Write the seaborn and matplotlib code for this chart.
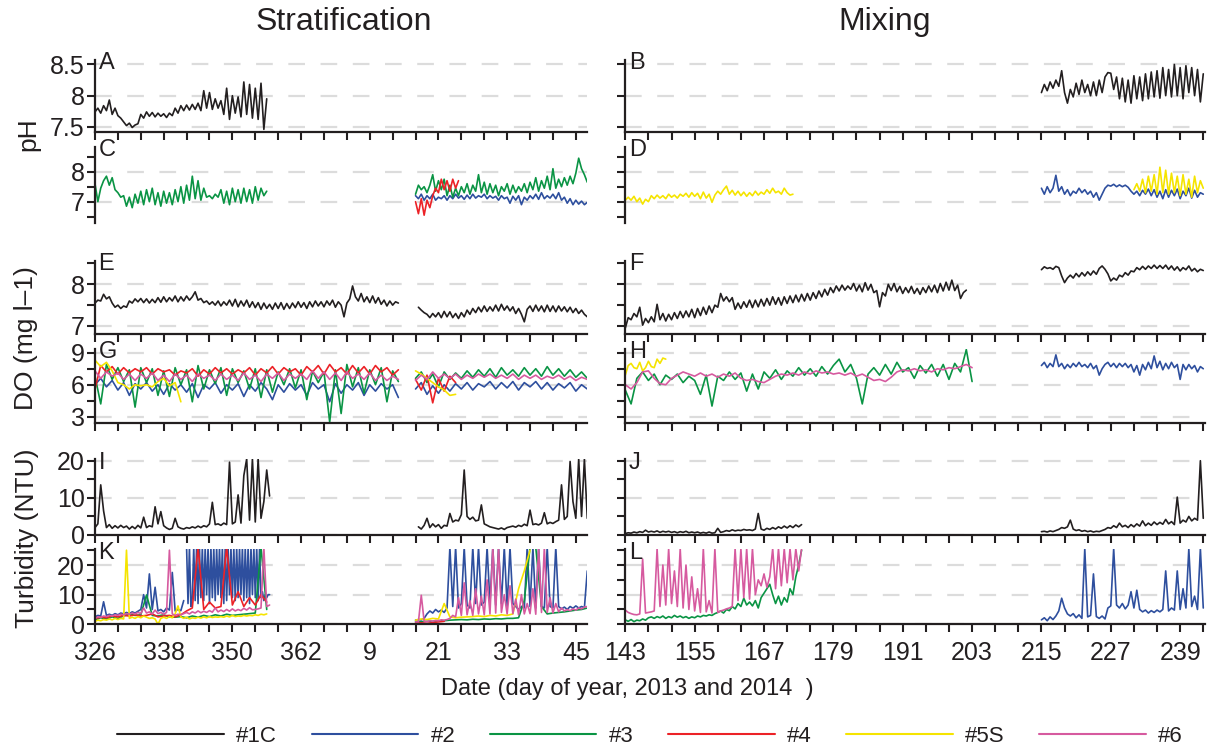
import numpy as np
import pandas as pd
import matplotlib
matplotlib.use("Agg")
import matplotlib.pyplot as plt
from matplotlib.lines import Line2D
import seaborn as sns

# ---------------- data ----------------
SITES = ["#1C", "#2", "#3", "#4", "#5S", "#6"]
COLORS = ["#231f20", "#2e4f9e", "#0a9444", "#ec2227", "#f5e400", "#d65a9f"]

# day index: 2013 days as is, 2014 days (stratification) as 365 + day of year
# pH, #1C
A_1C = [7.74,7.80,7.72,7.84,7.76,7.93,7.70,7.80,7.68,7.64,
        7.58,7.52,7.56,7.49,7.53,7.55,7.70,7.64,7.74,7.67,
        7.73,7.66,7.72,7.67,7.71,7.65,7.72,7.68,7.80,7.72,
        7.84,7.76,7.85,7.77,7.86,7.78,7.88,7.76,8.08,7.80,
        8.05,7.78,7.95,7.80,7.92,7.70,8.12,7.62,8.00,7.72,
        7.98,7.66,8.22,7.70,8.18,7.64,8.12,7.62,8.20,7.46,7.95]
B_1C = [8.05,8.18,8.08,8.22,8.12,8.25,8.15,8.40,8.05,7.88,
        8.10,7.98,8.20,8.02,8.25,8.05,8.18,8.00,8.22,8.00,
        8.25,8.05,8.30,8.37,8.36,8.10,8.30,7.95,8.28,7.90,
        8.25,7.88,8.32,7.95,8.30,7.92,8.35,7.95,8.38,7.98,
        8.40,7.96,8.45,8.00,8.42,7.98,8.50,8.00,8.45,7.95,
        8.48,8.05,8.45,8.00,8.42,7.90,8.35]
# pH, other sites
C_3_A = [7.60,7.00,7.45,7.70,7.85,7.55,7.80,7.40,7.30,7.15,
         7.20,6.85,7.15,6.80,7.25,6.95,7.35,6.90,7.40,7.00,
         7.45,6.90,7.30,6.85,7.35,6.95,7.30,6.90,7.40,7.00,
         7.50,6.95,7.55,7.05,7.85,7.10,7.70,7.05,7.45,7.15,
         7.20,7.10,7.25,7.15,7.40,6.95,7.35,6.90,7.45,7.00,
         7.40,6.95,7.45,7.00,7.40,6.95,7.50,7.05,7.45,7.20,7.35]
C_3_B = [7.25,7.55,7.40,7.50,7.30,7.55,7.90,7.35,7.70,7.40,
         7.75,7.20,7.55,7.15,7.45,7.20,7.50,7.30,7.60,7.25,
         7.55,7.35,7.90,7.30,7.65,7.25,7.60,7.30,7.55,7.20,
         7.50,7.35,7.60,7.25,7.55,7.30,7.50,7.35,7.60,7.30,
         7.65,7.40,7.80,7.35,7.70,7.45,7.85,7.40,8.10,7.45,
         7.75,7.50,7.80,7.55,7.85,7.60,7.95,8.45,8.10,7.90,7.65]
C_2_B = [7.20,7.10,7.25,7.05,7.20,7.10,7.25,7.05,7.15,7.10,
         7.20,7.05,7.20,7.10,7.25,7.12,7.20,7.08,7.22,7.10,
         7.25,7.12,7.20,7.15,7.25,7.10,7.20,7.12,7.18,7.05,
         7.20,7.10,7.15,6.95,7.18,7.05,7.20,6.90,7.15,7.05,
         7.20,7.10,7.25,7.08,7.30,7.10,7.20,7.12,7.25,7.10,
         7.30,7.05,7.15,6.95,7.10,6.90,7.05,6.92,7.02,6.90,6.98]
C_4_B = [7.00,6.60,7.10,6.55,7.05,6.80,7.20,7.45,7.30,7.75,
         7.40,7.70,7.35,7.75,7.45,7.70]
D_5S_A = [7.05,7.15,7.05,7.18,7.00,7.12,6.92,7.08,7.00,7.20,
          7.10,7.22,7.12,7.20,7.10,7.25,7.15,7.22,7.12,7.25,
          7.18,7.28,7.15,7.30,7.18,7.28,7.10,7.32,7.12,7.25,
          6.98,7.22,7.35,7.25,7.40,7.52,7.25,7.38,7.22,7.35,
          7.20,7.32,7.18,7.30,7.20,7.35,7.22,7.32,7.25,7.40,
          7.28,7.45,7.30,7.35,7.25,7.45,7.30,7.22,7.25]
D_2_B = [7.45,7.25,7.50,7.30,7.45,7.88,7.35,7.50,7.25,7.40,
         7.20,7.35,7.28,7.45,7.30,7.40,7.25,7.35,7.15,7.30,
         7.05,7.25,7.45,7.55,7.52,7.58,7.50,7.56,7.50,7.55,
         7.48,7.35,7.25,7.35,7.20,7.38,7.25,7.42,7.20,7.40,
         7.15,7.35,7.10,7.40,7.15,7.38,7.20,7.42,7.10,7.35,
         7.20,7.45,7.12,7.38,7.15,7.30,7.25]
D_5S_B = [7.40,7.60,7.35,7.75,7.30,7.85,7.35,7.90,7.25,8.15,
          7.30,8.05,7.25,7.95,7.30,7.85,7.20,7.90,7.25,7.75,
          7.15,7.85,7.30,7.70,7.45]
# DO, #1C
E_1C_A = [7.55,7.62,7.60,7.76,7.65,7.70,7.55,7.45,7.50,7.42,
          7.48,7.45,7.60,7.55,7.65,7.58,7.66,7.56,7.65,7.55,
          7.64,7.56,7.68,7.57,7.70,7.58,7.68,7.60,7.72,7.58,
          7.70,7.60,7.72,7.62,7.70,7.82,7.62,7.66,7.56,7.60,
          7.52,7.58,7.50,7.60,7.48,7.58,7.50,7.62,7.48,7.64,
          7.46,7.60,7.48,7.62,7.45,7.58,7.44,7.56,7.40,7.55,
          7.42,7.52,7.40,7.55,7.42,7.56,7.40,7.54,7.42,7.55,
          7.44,7.58,7.45,7.56,7.42,7.58,7.46,7.60,7.48,7.58,
          7.46,7.60,7.50,7.62,7.45,7.58,7.50,7.22,7.55,7.65,
          7.96,7.70,7.60,7.78,7.58,7.70,7.56,7.72,7.55,7.68,
          7.52,7.62,7.48,7.60,7.50,7.58,7.55]
E_1C_B = [7.45,7.38,7.32,7.28,7.20,7.30,7.22,7.32,7.20,7.35,
          7.22,7.34,7.20,7.30,7.18,7.32,7.22,7.38,7.28,7.42,
          7.32,7.45,7.34,7.48,7.35,7.46,7.36,7.50,7.36,7.52,
          7.38,7.48,7.36,7.46,7.30,7.42,7.28,7.10,7.40,7.48,
          7.35,7.50,7.36,7.48,7.34,7.50,7.35,7.48,7.34,7.48,
          7.36,7.46,7.34,7.45,7.32,7.42,7.30,7.38,7.28,7.22]
F_1C_A = [6.95,7.20,7.15,7.30,7.22,7.45,7.02,7.18,7.08,7.22,
          7.10,7.52,7.15,7.30,7.12,7.28,7.15,7.32,7.18,7.35,
          7.20,7.36,7.22,7.40,7.20,7.42,7.25,7.45,7.28,7.48,
          7.32,7.50,7.45,7.78,7.60,7.70,7.58,7.68,7.40,7.55,
          7.42,7.58,7.45,7.62,7.44,7.62,7.46,7.64,7.48,7.66,
          7.50,7.70,7.52,7.68,7.50,7.70,7.54,7.72,7.56,7.74,
          7.58,7.76,7.60,7.78,7.62,7.80,7.66,7.84,7.70,7.88,
          7.74,7.92,7.80,7.96,7.84,7.98,7.86,7.96,7.88,8.02,
          7.84,7.98,7.82,8.04,7.86,8.00,7.80,7.85,7.46,7.80,
          7.72,8.00,7.85,8.02,7.82,7.95,7.78,7.92,7.80,7.95,
          7.78,7.90,7.76,7.92,7.80,7.96,7.82,7.98,7.80,8.02,
          7.84,8.05,7.86,8.10,7.85,7.98,7.66,7.80,7.86]
F_1C_B = [8.35,8.42,8.38,8.40,8.36,8.43,8.40,8.20,8.04,8.15,
          8.22,8.15,8.26,8.18,8.28,8.20,8.30,8.22,8.32,8.24,
          8.38,8.44,8.36,8.25,8.08,8.15,8.10,8.22,8.18,8.28,
          8.22,8.32,8.30,8.40,8.35,8.43,8.36,8.44,8.38,8.46,
          8.38,8.45,8.38,8.46,8.36,8.44,8.34,8.42,8.32,8.40,
          8.35,8.44,8.32,8.38,8.30,8.36,8.33]
# DO, other sites (daily readings)
G_2_A = [6.0,6.6,5.8,6.4,5.5,6.2,5.0,6.1,5.6,6.2,
         5.4,6.0,5.1,6.1,5.5,6.0,5.3,6.1,4.8,6.0,
         5.6,6.2,5.2,6.0,5.5,6.1,4.9,6.0,5.4,6.2,
         5.6,4.6,6.0,5.3,6.1,5.5,6.0,5.0,6.2,5.6,
         6.0,4.4,6.1,5.2,6.0,5.5,6.2,5.0,6.0,5.4,
         6.1,5.6,6.0,4.8]
G_3_A = [6.8,4.2,7.9,6.5,7.6,6.3,7.4,3.9,7.6,6.2,
         7.5,5.0,7.3,4.9,7.6,6.0,7.4,4.4,7.8,5.6,
         7.4,6.1,7.6,5.0,7.5,6.2,7.3,5.6,7.5,4.8,
         7.4,5.3,7.2,6.0,7.5,5.7,7.4,4.6,7.3,6.2,
         7.2,2.5,7.4,3.3,7.9,5.8,7.6,5.2,7.4,6.0,
         7.6,4.4,7.3,6.3]
G_4_A = [5.6,7.8,7.2,7.7,7.0,7.6,7.1,7.5,7.2,7.6,
         7.0,7.5,7.2,7.4,6.9,7.3,7.1,7.5,6.8,7.4,
         7.0,7.6,7.1,7.5,7.0,7.4,7.1,7.6,6.9,7.5,
         7.1,7.7,7.0,7.6,7.2,7.5,6.9,7.7,7.2,7.8,
         7.0,7.9,7.2,7.6,7.0,7.8,7.1,7.7,7.0,7.8,
         7.2,7.6,6.9,7.4]
G_5S_A = [8.3,7.7,8.1,7.3,6.2,6.0,5.6,6.0,5.9,6.0,5.8,6.3,6.6,5.9,6.2,4.4]
G_6_A = [7.3,6.6,7.2,6.8,7.1,6.5,7.0,6.4,7.0,6.6,
         7.1,6.4,6.9,6.3,7.0,6.5,6.9,6.3,7.0,6.6,
         6.9,6.4,7.0,6.5,6.9,6.4,7.1,6.5,6.9,6.3,
         7.0,6.6,7.1,6.4,7.0,6.6,7.0,6.5,7.3,6.6,
         7.2,6.5,7.1,6.4,7.2,6.6,7.0,6.5,7.1,6.4,
         6.9,6.4,6.8,6.5]
G_2_B = [5.6,6.2,5.1,5.9,5.2,6.0,5.4,6.1,5.6,6.2,
         5.5,6.1,5.8,6.3,5.6,6.2,5.7,6.3,5.5,6.2,
         5.8,6.3,5.6,6.2,5.5,6.1,5.7,6.2,5.4,6.0,5.6]
G_3_B = [6.6,7.2,6.2,7.0,5.8,7.2,6.5,7.1,6.6,7.3,
         6.7,7.4,6.8,7.5,6.7,7.6,6.9,7.4,6.8,7.6,
         6.9,7.5,6.8,7.7,6.9,7.5,6.8,7.4,6.7,7.2,6.6]
G_4_B = [6.5,5.5,6.9,4.3,6.6,5.4,6.8,6.2]
G_5S_B = [7.3,7.0,6.6,6.2,5.8,5.5,5.0,5.1]
G_6_B = [6.4,6.9,6.5,7.2,6.6,7.0,6.6,7.0,6.5,6.9,
         6.6,7.0,6.7,7.0,6.6,6.9,6.6,7.0,6.5,6.9,
         6.6,6.9,6.5,6.8,6.6,6.9,6.5,6.8,6.4,6.7,6.5]
H_3 = [5.5,4.2,6.6,7.2,6.4,7.0,6.0,6.9,6.5,7.0,
       6.2,6.8,6.4,5.1,6.9,4.0,6.8,6.4,7.2,6.5,
       7.1,5.4,7.0,5.6,7.2,6.6,7.4,6.5,7.3,6.8,
       7.6,6.9,7.5,6.8,7.7,7.0,7.8,8.4,7.2,7.9,
       6.6,4.2,7.0,7.6,6.9,7.9,7.0,8.1,7.2,7.6,
       6.6,7.8,7.1,7.9,6.8,7.9,6.5,8.0,7.2,9.3,6.3]
H_6 = [6.0,5.6,6.2,7.2,7.3,6.6,6.1,6.0,6.6,6.9,
       7.2,7.0,6.8,7.1,6.8,7.0,6.7,7.0,6.8,7.1,
       6.6,6.4,6.5,6.3,6.2,6.5,6.8,7.0,6.9,7.1,
       6.9,7.2,7.0,7.3,7.1,7.2,7.0,7.1,6.9,7.1,
       6.8,7.0,6.7,6.4,6.5,6.3,6.7,7.2,7.4,7.3,
       7.5,7.3,7.4,7.2,7.5,7.4,7.6,7.5,7.7,7.9,7.6]
H_5S = [6.9,7.8,8.0,7.6,7.5,8.1,7.3,7.6,8.2,7.7,7.6,8.4,8.0,8.5,8.4]
H_2 = [7.8,8.1,7.6,8.0,7.7,8.8,7.7,8.0,7.5,7.9,
       7.6,8.0,7.7,8.1,7.7,7.9,7.6,8.0,7.5,7.8,
       6.9,7.5,7.9,8.1,7.7,8.0,7.6,8.0,7.7,8.0,
       7.6,7.9,7.2,7.8,6.9,7.9,7.4,8.1,7.5,8.7,
       7.6,8.2,7.4,8.0,7.5,8.1,7.6,7.9,6.5,7.9,
       7.4,7.9,7.5,7.8,7.2,7.7,7.5]
# Turbidity, #1C
I_1C_A = [2.0,3.0,13.5,6.5,2.0,2.8,1.8,2.5,1.9,2.6,
          2.0,2.4,1.6,2.3,1.7,2.6,1.9,4.8,2.0,2.5,
          2.2,7.6,3.0,6.3,2.5,1.9,1.5,1.8,4.5,2.2,
          1.8,1.6,2.0,1.8,2.2,1.9,2.4,2.0,2.5,2.2,
          3.0,8.8,2.8,3.0,2.6,3.2,2.8,19.6,3.0,3.5,
          10.8,3.2,16.0,20.5,4.0,20.5,3.5,20.5,4.5,9.0,
          17.5,10.5]
I_1C_B = [2.2,1.6,2.6,4.5,2.0,3.0,2.2,2.8,1.8,2.6,
          2.4,5.8,3.5,4.0,3.8,5.5,17.5,5.0,4.2,4.8,
          3.8,4.0,8.1,3.0,2.6,2.2,2.0,1.8,1.6,1.9,
          1.5,2.0,2.2,2.4,2.1,2.6,2.3,2.9,2.5,6.7,
          2.8,3.0,2.7,3.2,6.0,3.0,3.4,3.1,3.6,4.0,
          13.5,4.2,5.0,19.8,9.0,4.5,20.5,5.0,20.5,4.5]
J_1C_A = [0.4,0.6,0.5,0.8,0.6,0.9,0.7,1.3,0.8,1.0,
          0.8,1.1,0.7,1.0,0.8,1.0,0.7,0.9,0.6,0.9,
          0.7,1.0,0.6,0.8,0.6,0.8,0.5,0.7,0.5,0.8,
          0.5,0.6,1.8,0.7,0.9,1.2,1.0,1.4,1.1,1.3,
          1.2,1.5,1.3,1.4,1.2,1.6,5.8,1.6,1.3,1.8,
          1.5,2.0,1.6,2.2,1.8,2.4,1.9,2.5,2.0,2.7,
          2.2,2.8]
J_1C_B = [0.9,1.0,0.8,1.1,0.9,1.2,1.5,2.0,1.8,2.2,
          4.0,1.6,1.2,1.4,1.0,1.2,0.9,1.1,0.8,1.0,
          0.9,1.2,1.5,2.0,1.8,2.5,2.0,3.2,2.2,2.6,
          2.0,2.8,2.2,3.0,2.4,3.8,2.5,3.2,2.6,3.5,
          2.8,3.4,2.9,4.2,3.0,3.6,2.8,10.2,3.2,4.0,
          3.5,5.0,3.8,4.5,4.0,20.0,4.5]
# Turbidity, other sites
K_2_A = [2.5,3.0,2.8,7.6,3.0,3.4,3.0,3.6,3.2,3.8,
         3.5,4.0,3.6,4.2,3.8,4.4,5.0,10.0,5.5,17.0,
         5.0,12.5,4.5,5.0,4.2,5.5,4.8,17.5,4.5,5.0,
         4.6,8.0]
K_2_A_DENSE = [26,7,26,6,9,26,8,26,7,26,
               9,26,8,26,10,26,7,26,9,26,
               8,26,10,26,9,26,7,26,8,26,
               10,26,9,26,8,26,9,26,10,26,
               8,26,9,26,7,26,10,26,9,26,
               8,26,9,11,8,10,9,10,10]
K_3_A = [1.5,2.2,1.8,2.5,2.0,2.8,3.5,3.0,3.2,9.9,
         3.0,2.8,3.2,2.5,2.4,2.6,2.2,2.8,2.4,3.0,
         2.6,3.2,2.8,3.4,3.0,3.2,3.4,3.6,3.8,26.0,5.0]
K_4_A = [2.0,2.4,2.2,2.8,2.5,3.0,2.8,3.2,2.8,3.0,
         3.5,2.5,2.8,3.0,2.5,3.2,4.5,5.5,26.0,5.0,
         7.5,5.5,6.0,26.0,6.5,11.0,6.0,9.0,6.5,10.0,7.5]
K_5S_A = [1.0,1.4,1.2,1.6,1.4,1.8,1.5,2.0,1.6,2.0,
          1.8,25.0,2.0,2.4,2.0,2.6,2.2,2.8,2.4,2.0,
          2.2,1.8,0.0,2.0,2.4,2.0,2.6,2.2,3.5,6.2,
          2.5,2.0,2.4,1.8,2.2,2.0,2.4,2.1,2.5,2.2,
          2.6,2.3,2.5,2.4,2.6,2.4,2.8,2.5,3.0,2.6,
          2.8,2.7,3.0,2.8,3.0,2.9,3.2,3.0,3.4,3.2,3.5]
K_6_A = [2.0,2.5,2.3,2.8,2.6,3.0,2.8,3.2,3.0,3.4,
         3.2,3.6,3.4,3.8,3.5,4.0,3.6,5.5,3.8,4.2,
         3.5,4.8,3.6,4.0,3.4,4.0,25.0,3.5,3.0,3.4,
         3.2,3.6,4.0,3.5,4.2,3.8,4.5,3.9,4.4,4.0,
         4.6,4.1,5.5,4.2,4.8,4.3,5.0,4.4,5.2,4.5,
         5.0,4.6,5.4,4.8,5.6,4.9,5.0,5.2,5.5,26.0,
         6.0,6.5]
K_2_B = [1.4,1.6,1.5,2.0,3.5,4.5,3.8,5.0,4.2,4.8,
         4.0,5.5,26.0,6.0,26.0,5.5,7.0,26.0,6.5,5.5,
         26.0,7.0,26.0,6.5,7.5,26.0,7.0,26.0,6.5,26.0,
         7.0,26.0,6.0,26.0,7.0,6.0,5.0,6.0,5.5,26.0,
         6.0,26.0,5.5,26.0,6.0,5.5,26.0,6.0,5.5,26.0,
         6.0,5.2,5.8,5.0,6.0,5.4,6.2,5.5,6.0,5.6,18.0]
K_3_B = [0.8,0.9,1.0,1.0,1.2,1.2,1.4,1.5,1.6,1.5,
         1.7,1.6,1.8,1.7,1.9,1.8,2.0,2.0,2.2,8.0,
         26.0,26.0,6.0,3.5,3.8,4.0,4.2,4.5,4.8,5.0,5.5]
K_4_B = [0.4,0.5,0.3,0.6,0.8,1.0]
K_5S_B = [1.4,1.8,1.6,2.0,1.8,7.0,2.5,2.2,2.4,2.5,
          2.6,2.8,2.6,3.0,2.8,3.2,3.0,3.5,12.0,18.0,25.0]
K_6_B = [0.8,0.8,9.8,1.0,0.9,1.2,1.0,1.3,1.2,1.5,
         1.4,1.6,2.0,3.0,2.5,9.0,3.0,14.0,3.2,8.0,
         3.0,12.0,3.5,9.5,3.2,15.0,3.5,26.0,3.8,26.0,
         4.0,10.0,3.5,13.0,3.6,8.5,3.2,10.0,3.5,7.0,
         3.6,12.0,3.4,26.0,4.0,26.0,4.0,9.0,3.8,7.0,
         4.2,5.5,4.5,5.0,4.6,5.2,4.8,5.5,5.2,5.8,6.0]
L_6 = [4.8,4.0,3.6,3.3,3.2,3.5,22.0,3.8,4.0,4.2,
       4.5,25.5,6.0,20.0,6.5,25.5,7.0,18.0,6.0,25.5,
       5.5,20.0,5.0,16.0,4.5,12.0,4.0,25.5,4.2,8.0,
       3.8,25.5,4.0,4.5,4.8,5.2,5.5,6.0,25.5,8.0,
       25.5,9.0,25.5,8.5,25.5,10.0,15.0,13.0,17.0,12.5,
       16.0,25.5,12.0,25.5,13.0,25.5,14.0,25.5,15.0,25.5,
       18.0,25.5]
L_3 = [1.5,1.0,1.6,0.9,1.4,1.2,1.8,1.4,2.2,2.5,
       2.0,2.6,2.2,2.8,2.0,2.6,2.2,3.0,2.4,2.8,
       2.2,2.6,2.0,2.5,2.2,2.8,2.5,3.0,2.8,3.2,
       3.0,3.6,4.0,4.5,3.8,5.0,4.6,6.0,5.2,7.0,
       6.0,8.8,6.5,7.5,6.2,8.0,5.5,9.0,10.5,12.0,
       13.5,10.0,7.0,9.5,6.5,9.0,7.5,12.0,10.0,16.0,
       20.0,25.0]
L_2 = [1.5,2.2,1.2,2.5,1.6,2.8,4.5,8.8,5.5,3.5,
       2.8,3.6,2.2,3.2,2.0,25.5,2.5,3.0,17.0,2.6,
       2.0,2.8,1.8,5.5,6.2,25.5,6.5,5.5,7.0,5.2,
       6.5,11.0,5.5,11.5,5.0,4.2,4.8,3.8,4.6,4.0,
       4.8,4.2,5.0,18.0,4.5,5.5,4.8,18.0,5.0,12.0,
       5.5,25.5,6.0,9.5,5.0,25.5,5.5]

# (panel, site, first day, sampling interval in days, values)
SERIES = [
    ("A", "#1C", 326, 0.5, A_1C),
    ("B", "#1C", 215, 0.5, B_1C),
    ("C", "#3", 326, 0.5, C_3_A), ("C", "#2", 382, 0.5, C_2_B),
    ("C", "#3", 382, 0.5, C_3_B), ("C", "#4", 382, 0.5, C_4_B),
    ("D", "#5S", 143, 0.5, D_5S_A), ("D", "#2", 215, 0.5, D_2_B),
    ("D", "#5S", 231, 0.5, D_5S_B),
    ("E", "#1C", 326, 0.5, E_1C_A), ("E", "#1C", 382.5, 0.5, E_1C_B),
    ("F", "#1C", 143, 0.5, F_1C_A), ("F", "#1C", 215, 0.5, F_1C_B),
    ("G", "#2", 326, 1, G_2_A), ("G", "#3", 326, 1, G_3_A), ("G", "#4", 326, 1, G_4_A),
    ("G", "#5S", 326, 1, G_5S_A), ("G", "#6", 326, 1, G_6_A),
    ("G", "#2", 382, 1, G_2_B), ("G", "#3", 382, 1, G_3_B), ("G", "#4", 382, 1, G_4_B),
    ("G", "#5S", 382, 1, G_5S_B), ("G", "#6", 382, 1, G_6_B),
    ("H", "#3", 143, 1, H_3), ("H", "#6", 143, 1, H_6), ("H", "#5S", 143, 0.5, H_5S),
    ("H", "#2", 215, 0.5, H_2),
    ("I", "#1C", 326, 0.5, I_1C_A), ("I", "#1C", 382.5, 0.5, I_1C_B),
    ("J", "#1C", 143, 0.5, J_1C_A), ("J", "#1C", 215, 0.5, J_1C_B),
    ("K", "#2", 326, 0.5, K_2_A), ("K", "#2", 342, 0.25, K_2_A_DENSE),
    ("K", "#3", 326, 1, K_3_A), ("K", "#4", 326, 1, K_4_A),
    ("K", "#5S", 326, 0.5, K_5S_A), ("K", "#6", 326, 0.5, K_6_A),
    ("K", "#2", 382, 0.5, K_2_B), ("K", "#3", 382, 1, K_3_B), ("K", "#4", 382, 1, K_4_B),
    ("K", "#5S", 382, 1, K_5S_B), ("K", "#6", 382, 0.5, K_6_B),
    ("L", "#6", 143, 0.5, L_6), ("L", "#3", 143, 0.5, L_3), ("L", "#2", 215, 0.5, L_2),
]

records = []
for seg, (panel, site, start, step, vals) in enumerate(SERIES):
    days = start + step * np.arange(len(vals))
    for d, v in zip(days, vals):
        records.append((panel, site, seg, d, v))
df = pd.DataFrame(records, columns=["panel", "site", "seg", "day", "value"])

# ---------------- style ----------------
sns.set_theme(style="ticks")
plt.rcParams["font.family"] = ["Liberation Sans", "DejaVu Sans"]
INK = "#231f20"
plt.rcParams["text.color"] = INK
plt.rcParams["xtick.color"] = INK
plt.rcParams["ytick.color"] = INK
PALETTE = dict(zip(SITES, COLORS))

W, H = 1208, 749
fig = plt.figure(figsize=(W / 100, H / 100), dpi=100)

COLS = [(95, 586.7), (625.3, 1205)]
ROWS = [(60, 132.3), (146.7, 223), (260.7, 334), (349, 422.7), (459.3, 535), (549.3, 624.3)]
LETTERS = [("A", "B"), ("C", "D"), ("E", "F"), ("G", "H"), ("I", "J"), ("K", "L")]
YCFG = [
    ((7.413, 8.572), [7.5, 8, 8.5], []),
    ((6.29, 8.833), [7, 8], [6.5, 7.5, 8.5]),
    ((6.808, 8.566), [7, 8], [7.5, 8.5]),
    ((2.44, 9.35), [3, 6, 9], [4.5, 7.5]),
    ((0, 20.38), [0, 10, 20], [5, 15]),
    ((0, 25.3), [0, 10, 20], [5, 15, 25]),
]
XCFG = [
    ((326, 411.9), list(range(326, 411, 12)), list(range(326, 412, 4))),
    ((143, 243.3), list(range(143, 244, 12)), list(range(143, 244, 4))),
]


def fmt(v):
    return ("%g" % v)


def day_label(d):
    return str(d - 365 if d > 365 else d)


for r, ((y0, y1), letters, (ylim, ymaj, ymin)) in enumerate(zip(ROWS, LETTERS, YCFG)):
    for c, ((x0, x1), letter) in enumerate(zip(COLS, letters)):
        ax = fig.add_axes([x0 / W, 1 - y1 / H, (x1 - x0) / W, (y1 - y0) / H])
        sub = df[df.panel == letter]
        present = [s for s in SITES if s in set(sub.site)]
        sns.lineplot(data=sub, x="day", y="value", hue="site", units="seg",
                     estimator=None, hue_order=present, palette=PALETTE,
                     legend=False, ax=ax, linewidth=1.2, sort=True)
        ax.set_xlabel("")
        ax.set_ylabel("")
        (xlim, xmaj, xmin) = XCFG[c]
        ax.set_xlim(*xlim)
        ax.set_ylim(*ylim)
        ax.set_yticks(ymaj)
        ax.set_yticks(ymin, minor=True)
        ax.set_xticks(xmaj)
        ax.set_xticks(xmin, minor=True)
        ax.set_axisbelow(True)
        ax.grid(False)
        ax.yaxis.grid(True, which="major", color="#dcdcdc",
                      linestyle=(0, (7.5, 7)), linewidth=1.6)
        for s in ("top", "right"):
            ax.spines[s].set_visible(False)
        for s in ("left", "bottom"):
            ax.spines[s].set_linewidth(1.6)
            ax.spines[s].set_color(INK)
        ax.tick_params(axis="y", which="both", direction="out", length=6,
                       width=1.5, pad=1.5, labelsize=18, labelleft=(c == 0))
        if c == 0:
            ax.set_yticklabels([fmt(v) for v in ymaj])
        if r == 1:
            ax.spines["bottom"].set_visible(False)
            ax.tick_params(axis="x", which="both", bottom=False, labelbottom=False)
        else:
            ax.tick_params(axis="x", which="both", direction="out", length=6,
                           width=1.5, pad=6, labelsize=18,
                           labelbottom=(r == len(ROWS) - 1))
            if r == len(ROWS) - 1:
                ax.set_xticklabels([day_label(d) for d in xmaj])
        ax.annotate(letter, xy=(0, 1), xycoords="axes fraction",
                    xytext=(2.5, -2.5), textcoords="offset points",
                    ha="left", va="center", fontsize=17, color=INK)

# column titles and axis labels
fig.text(343.5 / W, 1 - 21.7 / H, "Stratification", ha="center", va="center", fontsize=23)
fig.text(885 / W, 1 - 21.7 / H, "Mixing", ha="center", va="center", fontsize=23)
fig.text(28 / W, 1 - 134 / H, "pH", rotation=90, ha="center", va="center", fontsize=19)
fig.text(26 / W, 1 - 338.5 / H, "DO (mg l\u20131)", rotation=90, ha="center", va="center", fontsize=19)
fig.text(27 / W, 1 - 538 / H, "Turbidity (NTU)", rotation=90, ha="center", va="center", fontsize=19)
fig.text(627.5 / W, 1 - 689 / H, "Date (day of year, 2013 and 2014  )", ha="center",
         va="center", fontsize=17)

handles = [Line2D([], [], color=PALETTE[s], lw=1.5) for s in SITES]
fig.legend(handles, SITES, loc="center", bbox_to_anchor=(650 / W, 1 - 736 / H),
           ncol=6, frameon=False, fontsize=16, handlelength=4.8,
           handletextpad=0.55, columnspacing=1.55, borderaxespad=0, borderpad=0)

fig.savefig("out.png", dpi=100)
